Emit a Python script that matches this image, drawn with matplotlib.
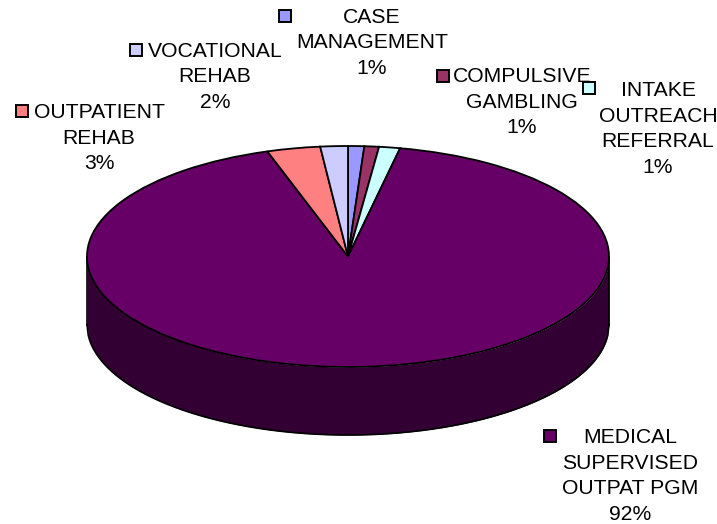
import numpy as np
import matplotlib
matplotlib.use("Agg")
import matplotlib.pyplot as plt

plt.rcParams['font.family'] = ['Liberation Sans', 'DejaVu Sans']

# Clockwise from 12 o'clock
categories = ["CASE\nMANAGEMENT", "COMPULSIVE\nGAMBLING", "INTAKE\nOUTREACH\nREFERRAL",
              "MEDICAL\nSUPERVISED\nOUTPAT PGM", "OUTPATIENT\nREHAB", "VOCATIONAL\nREHAB"]
values = [1.0, 0.9, 1.3, 91.8, 3.3, 1.7]
colors = ["#9999FF", "#993366", "#CCFFFF", "#660066", "#FF8080", "#CCCCFF"]
side_color = "#330033"

W, H = 717, 524
CX, CY, RX, RY, DEPTH = 348.0, 256.5, 261.0, 110.5, 68.0

# Layout in pixels: (key x, key y, text x, text y)
label_pos = [(285, 16, 372, 43), (443, 76, 522, 102), (589, 88, 658, 129),
             (550, 436, 630, 476), (22, 111, 99, 138), (136, 50, 215, 77)]


def px(x, y):
    return (x - CX) / RX, (CY - y) / RY


fig = plt.figure(figsize=(W / 100, H / 100), dpi=100, facecolor="white")
ax = fig.add_axes([0, 0, 1, 1])

# Side wall of the 3D pie
t = np.linspace(-1, 1, 400)
lower = -np.sqrt(1 - t ** 2)
d = DEPTH / RY
ax.fill_between(t, lower, lower - d, color=side_color, zorder=1, lw=0)
ax.plot(t, lower - d, color="black", lw=1.2, zorder=2)
ax.plot([-1, -1], [0, -d], color="black", lw=1.2, zorder=2)
ax.plot([1, 1], [0, -d], color="black", lw=1.2, zorder=2)

# Top face: a pie stretched by the non-equal axes scaling
wedges, _ = ax.pie(values, colors=colors, startangle=90, counterclock=False, radius=1,
                   wedgeprops=dict(edgecolor="black", linewidth=1.3, zorder=3))
for w in wedges:
    w.set_zorder(3)

ax.set_aspect("auto")
ax.set_xlim(px(0, 0)[0], px(W, 0)[0])
ax.set_ylim(px(0, H)[1], px(0, 0)[1])
ax.axis("off")

for cat, val, col, (kx, ky, tx, ty) in zip(categories, values, colors, label_pos):
    kxd, kyd = px(kx, ky)
    ax.plot([kxd], [kyd], marker="s", ms=9.0, mfc=col, mec="black", mew=1.4, ls="none",
            zorder=5, clip_on=False)
    txd, tyd = px(tx, ty)
    ax.text(txd, tyd, f"{cat}\n{val:.0f}%", ha="center", va="center", fontsize=15.2,
            color="black", linespacing=1.45, zorder=6)

fig.savefig("out.png", dpi=100, facecolor="white")
